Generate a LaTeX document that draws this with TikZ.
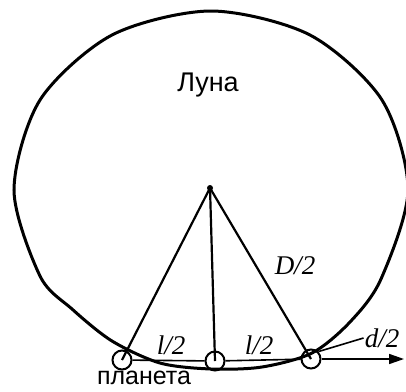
\documentclass[tikz,border=0pt]{standalone}
\usepackage{fontspec}
\setmainfont{Liberation Serif}
\newfontfamily\labelsans{Liberation Sans}
\usepackage{tikz}
\usetikzlibrary{
    arrows.meta,
    positioning
}
\tikzset{
    planet/.style={
        circle, draw, line width=2pt,
        minimum size=19pt, inner sep=0pt
    },
    centre dot/.style={
        circle, fill, minimum size=6pt, inner sep=0pt
    },
    moon edge/.style={line width=3pt},
    radius line/.style={line width=2.2pt},
    track line/.style={line width=1.6pt},
    size label/.style={
        font=\fontsize{27}{30}\selectfont\itshape, inner sep=1pt
    },
    body label/.style={
        font=\labelsans\fontsize{27}{30}\selectfont, inner sep=1pt
    },
}

\begin{document}
\begin{tikzpicture}[x=1pt, y=-1pt]
    \useasboundingbox (0,0) rectangle (406,391);

    % Moon disc
    \draw[moon edge] plot[smooth cycle] coordinates {
        (408,190) (381,279) (350,322) (312,353) (262,367) (211,369)
        (160,363) (112,341) (72,309) (40,276) (14,190) (40,100)
        (112,35) (211,11) (310,35) (382,100)};
    \node[centre dot] (centre) at (210,188) {};
    \node[body label] (moon) at (208,85) {Луна};

    % Planet positions
    \node[planet] (p1) at (122,360) {};
    \node[planet] (p2) at (215,361) {};
    \node[planet] (p3) at (311,359) {};
    \coordinate (dir) at (404,359);

    % Radii
    \draw[radius line] (centre.center) -- (p1.center);
    \draw[radius line] (centre.center) -- (p2.center);
    \draw[radius line] (centre.center) -- (p3.center);

    % Planet track
    \draw[track line] (p1) -- (p2);
    \draw[track line] (p2) -- (p3);
    \draw[track line, -{Triangle[length=15pt, width=10pt]}] (p3) -- (dir);

    % Labels
    \node[size label] (l1) at (171,345) {l/2};
    \node[size label] (l2) at (259,345) {l/2};
    \node[size label] (D) at (295,266) {D/2};
    \node[size label] (dlabel) at (382,338) {d/2};
    \draw[track line] (dlabel.west) -- (p3.north east);
    \node[body label, font=\labelsans\fontsize{25}{28}\selectfont, anchor=base]
        (planetname) at (144,384) {планета};
\end{tikzpicture}
\end{document}
